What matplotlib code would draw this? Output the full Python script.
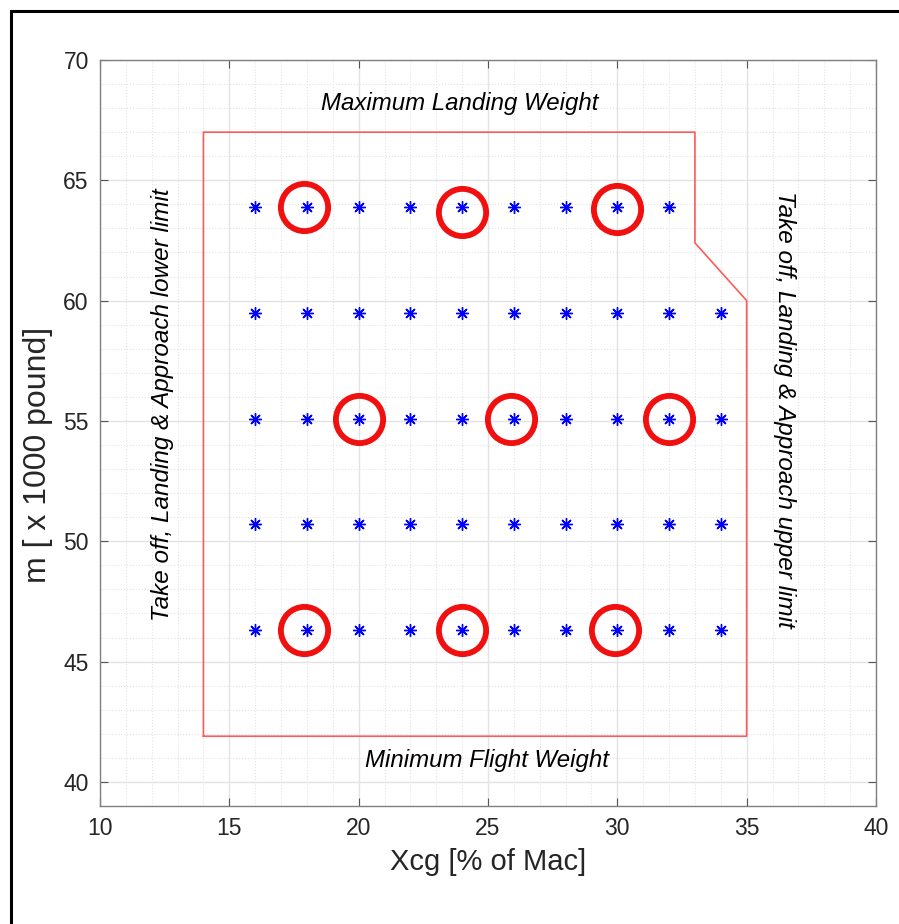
import matplotlib.pyplot as plt
from matplotlib.patches import Rectangle
from matplotlib.ticker import MultipleLocator

plt.rcParams['font.family'] = ['Liberation Sans', 'DejaVu Sans']

# CG envelope (red line)
env_x = [14, 14, 33, 33, 35, 35, 14]
env_y = [41.9, 67, 67, 62.4, 60, 41.9, 41.9]

# grid of test points (blue stars)
xcg_vals = [16, 18, 20, 22, 24, 26, 28, 30, 32, 34]
mass_rows = [46.3, 50.7, 55.1, 59.5, 63.9]
top_row_x = [16, 18, 20, 22, 24, 26, 28, 30, 32]

# circled points
circ_x = [17.9, 24.0, 30.0, 20.0, 25.9, 32.0, 17.9, 24.0, 29.9]
circ_y = [63.9, 63.7, 63.8, 55.1, 55.1, 55.1, 46.3, 46.3, 46.3]

fig = plt.figure(figsize=(8.99, 9.24), dpi=100)
ax = fig.add_axes([0.1112, 0.1277, 0.8632, 0.8074])

# outer frame (only left and top visible in the screenshot)
fig.patches.append(Rectangle((11 / 899, -0.1), 1.2, 1.1 - 11 / 924,
                             transform=fig.transFigure, fill=False,
                             edgecolor='black', linewidth=2.2))

ax.plot(env_x, env_y, color='#ff5a5a', linewidth=1.2)

for m in mass_rows:
    xs = top_row_x if m == 63.9 else xcg_vals
    ax.plot(xs, [m] * len(xs), linestyle='none', marker=(8, 2, 0),
            markersize=9, markeredgewidth=1.0, color='blue')

ax.plot(circ_x, circ_y, linestyle='none', marker='o', markersize=34,
        markerfacecolor='none', markeredgecolor='#f01010', markeredgewidth=4.2)

ax.set_xlim(10, 40)
ax.set_ylim(39, 70)
ax.xaxis.set_major_locator(MultipleLocator(5))
ax.yaxis.set_major_locator(MultipleLocator(5))
ax.xaxis.set_minor_locator(MultipleLocator(1))
ax.yaxis.set_minor_locator(MultipleLocator(1))
ax.grid(which='major', color='#e3e3e3', linewidth=1.0, linestyle='-')
ax.grid(which='minor', color='#e3e3e3', linewidth=0.8, linestyle=':')
ax.set_axisbelow(True)

ax.tick_params(which='major', direction='in', top=True, right=True,
               length=6, width=0.8, color='#555555', labelsize=16.5,
               labelcolor='#262626', pad=8)
ax.tick_params(which='minor', length=0)
for s in ax.spines.values():
    s.set_color('#808080')
    s.set_linewidth(1.0)

ax.set_xlabel('Xcg [% of Mac]', fontsize=21, color='#262626', labelpad=6)
ax.set_ylabel('m [ x 1000 pound]', fontsize=23, color='#262626')
ax.yaxis.set_label_coords(-0.06, 0.47)

ax.text(23.9, 68.2, 'Maximum Landing Weight', fontsize=17.3, style='italic',
        ha='center', va='center')
ax.text(24.96, 40.9, 'Minimum Flight Weight', fontsize=17.3, style='italic',
        ha='center', va='center')
ax.text(12.4, 55.67, 'Take off, Landing & Approach lower limit', fontsize=17.5,
        style='italic', ha='center', va='center', rotation=90)
ax.text(36.45, 55.47, 'Take off, Landing & Approach upper limit', fontsize=17.5,
        style='italic', ha='center', va='center', rotation=-90)

fig.savefig('out.png', dpi=100)
